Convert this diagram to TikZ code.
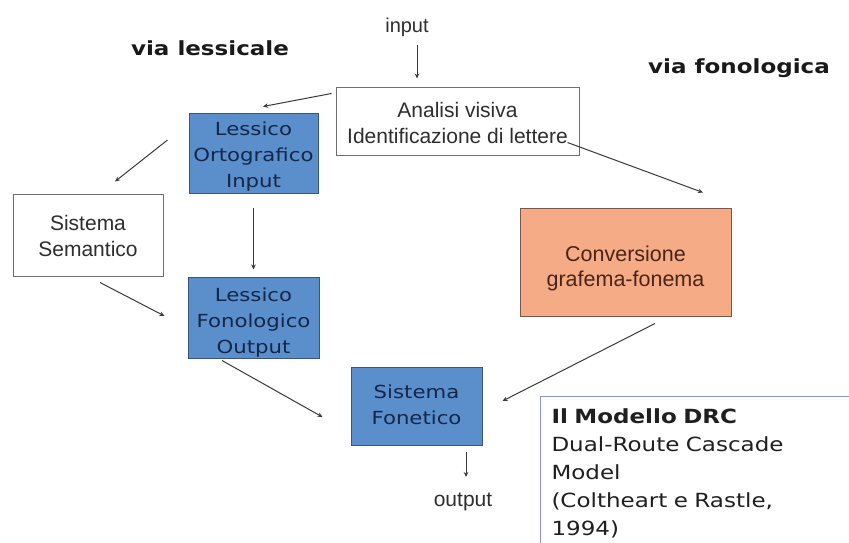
\documentclass[tikz,border=0pt]{standalone}
\usepackage{fontspec}
\usetikzlibrary{arrows.meta,calc}
\newfontfamily\vfont[FakeStretch=1.18]{DejaVu Sans}
\newfontfamily\afont{Liberation Sans}
\definecolor{bluefill}{HTML}{5B8FCC}
\definecolor{blueline}{HTML}{38567F}
\definecolor{bluetext}{HTML}{14264A}
\definecolor{orfill}{HTML}{F5AC86}
\definecolor{orline}{HTML}{7A5848}
\definecolor{ortext}{HTML}{4A2418}
\definecolor{grayline}{HTML}{6E6E6E}
\definecolor{graytext}{HTML}{2E2E2E}
\definecolor{drcline}{HTML}{8A96C0}
\definecolor{arrcol}{HTML}{3A3A3A}
\newcommand{\mystack}[2]{\raisebox{#1}[\height][\depth]{\begin{tabular}{@{}c@{}}#2\end{tabular}}}
\tikzset{
  arr/.style={draw=arrcol, line width=1pt, -{Stealth[length=5pt,width=4.5pt]}},
  bluebox/.style={draw=blueline, line width=1pt, fill=bluefill, text=bluetext, align=center, inner sep=0pt,
    font=\vfont\fontsize{18}{26}\selectfont},
  whitebox/.style={draw=grayline, line width=1pt, fill=white, text=graytext, align=center, inner sep=0pt,
    font=\afont\fontsize{21}{25.5}\selectfont},
  orbox/.style={draw=orline, line width=1pt, fill=orfill, text=ortext, align=center, inner sep=0pt,
    font=\afont\fontsize{21.5}{24.5}\selectfont},
  heading/.style={text=black!90, font=\vfont\bfseries\fontsize{19.5}{24}\selectfont, inner sep=0pt},
  smalllabel/.style={text=graytext, font=\afont\fontsize{20}{24}\selectfont, inner sep=0pt},
}
\begin{document}
\begin{tikzpicture}[x=1pt,y=-1pt]
\useasboundingbox[fill=white] (0,0) rectangle (849,542);
% headings
\node[heading] (vl) at (210,48) {via lessicale};
\node[heading] (vf) at (739,68) {via fonologica};
\node[smalllabel] (input) at (407,27) {input};
% boxes
\node[whitebox, minimum width=243pt, minimum height=68pt, font=\afont\fontsize{21}{26}\selectfont] (ana) at (457.5,121)
  {\mystack{-4pt}{Analisi visiva\\Identificazione di lettere}};
\node[bluebox, minimum width=129pt, minimum height=80pt] (loi) at (253.5,153)
  {\mystack{-3pt}{Lessico\\Ortografico\\Input}};
\node[whitebox, minimum width=150pt, minimum height=82pt] (ss) at (88,235)
  {\mystack{-3.5pt}{Sistema\\Semantico}};
\node[bluebox, minimum width=131pt, minimum height=81pt] (lfo) at (253.5,317.5)
  {\mystack{-5pt}{Lessico\\Fonologico\\Output}};
\node[bluebox, minimum width=131pt, minimum height=78pt] (sf) at (416.5,406)
  {\mystack{-0.5pt}{Sistema\\Fonetico}};
\node[orbox, minimum width=211pt, minimum height=108pt] (conv) at (625.5,262)
  {\mystack{-7pt}{Conversione\\grafema-fonema}};
\node[smalllabel, font=\afont\fontsize{21}{24}\selectfont] (output) at (463,502) {output};
\node[draw=drcline, line width=1pt, fill=white, anchor=north west, align=left,
  inner xsep=11pt, inner ysep=2pt, text width=300pt, minimum height=154pt,
  text=black!88, font=\vfont\fontsize{19.5}{28}\selectfont] (drc) at (540,396)
  {{\bfseries Il Modello DRC}\\Dual-Route Cascade\\Model\\(Coltheart e Rastle,\\1994)};
% connectors
\draw[arr] ([shift={(10,18)}]input.center) -- ([shift={(-40.5,-8)}]ana.north);
\draw[arr] ([shift={(-4,7)}]ana.north west) -- ([shift={(9.5,-6)}]loi.north);
\draw[arr] ([shift={(-12,-13)}]ana.south east) -- ([shift={(77.5,-15)}]conv.north);
\draw[arr] ([shift={(-21,-13)}]loi.west) -- ([shift={(27,-12)}]ss.north);
\draw[arr] ([shift={(0,14)}]loi.south) -- ([shift={(0,-7)}]lfo.north);
\draw[arr] ([shift={(12,6)}]ss.south) -- ([shift={(-23,-1.5)}]lfo.west);
\draw[arr] ([shift={(-31.5,2)}]lfo.south) -- ([shift={(-28,11)}]sf.west);
\draw[arr] ([shift={(29.5,7)}]conv.south) -- ([shift={(20,-5)}]sf.east);
\draw[arr] ([shift={(49.5,6)}]sf.south) -- ([shift={(3,-25)}]output.center);
\end{tikzpicture}
\end{document}
